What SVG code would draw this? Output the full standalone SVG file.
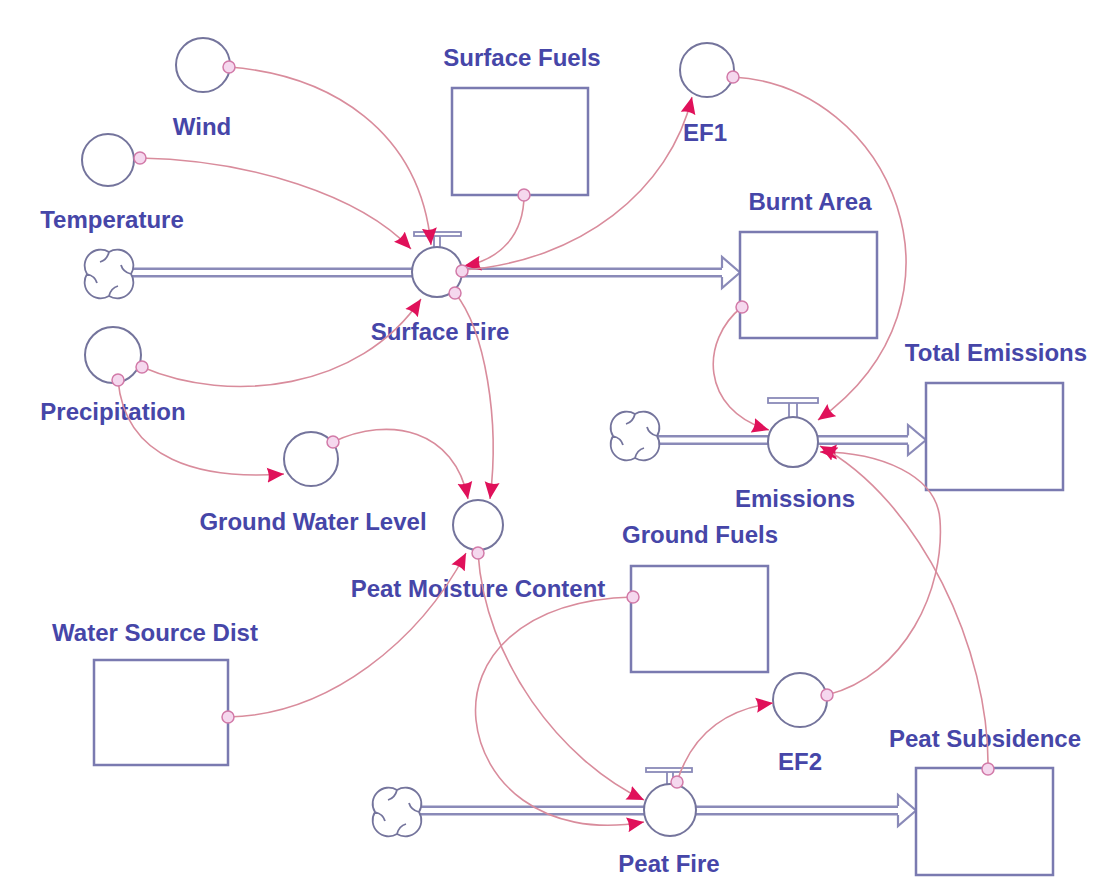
<svg xmlns="http://www.w3.org/2000/svg" width="1096" height="879" viewBox="0 0 1096 879">
<style>
.lbl{font-family:"Liberation Sans",Arial,sans-serif;font-size:24px;font-weight:bold;fill:#4646a8;text-anchor:middle}
.aux{fill:#fff;stroke:#74749c;stroke-width:2}
.stock{fill:#fff;stroke:#7a7ab0;stroke-width:2.5}
.pipeo{fill:none;stroke:#8a8ab8;stroke-width:10}
.pipei{fill:none;stroke:#fff;stroke-width:5}
.head{fill:#fff;stroke:#8a8ab8;stroke-width:2.2;stroke-linejoin:miter}
.valve{fill:#fff;stroke:#74749c;stroke-width:2}
.bar{fill:#fff;stroke:#8a8ab8;stroke-width:1.8}
.cloud{fill:#fff;stroke:#74749c;stroke-width:1.8}
.link{fill:none;stroke:#d98c9c;stroke-width:1.6;marker-end:url(#ah)}
.dot{fill:#f5d8ee;stroke:#d27aa8;stroke-width:1.5}
</style>
<defs>
<marker id="ah" markerUnits="userSpaceOnUse" markerWidth="18" markerHeight="16" refX="17" refY="8" orient="auto">
<path d="M0,0.5 L17,8 L0,15.5 Q3.5,8 0,0.5 Z" fill="#e0115a"/>
</marker>
<g id="cloudsym">
<path class="cloud" d="M0,-22 A16 16 0 0 1 22,0 A16 16 0 0 1 0,22 A16 16 0 0 1 -22,0 A16 16 0 0 1 0,-22 Z M0,-22 q-2,8 -9,10 M22,0 q-8,-2 -10,-9 M0,22 q2,-8 9,-10 M-22,0 q8,2 10,9"/>
</g>
</defs>
<rect width="1096" height="879" fill="#fff"/>

<g id="connectors">
<g id="flows">
<path class="pipeo" d="M131,272.5 H722"/><path class="pipei" d="M129,272.5 H724"/>
<path class="head" d="M722,268 V257 L740,272.5 L722,288 V277"/>
<path class="pipeo" d="M657,440 H908"/><path class="pipei" d="M655,440 H910"/>
<path class="head" d="M908,435.5 V425 L926,440 L908,455 V444.5"/>
<path class="pipeo" d="M419,810.5 H898"/><path class="pipei" d="M417,810.5 H900"/>
<path class="head" d="M898,806 V795 L916,810.5 L898,826 V815"/>
</g>
</g>

<g id="wind"><circle class="aux" cx="203" cy="65" r="27"/><text class="lbl" x="202" y="135">Wind</text></g>
<g id="temperature"><circle class="aux" cx="108" cy="160" r="26"/><text class="lbl" x="112" y="228">Temperature</text></g>
<g id="precipitation"><circle class="aux" cx="113" cy="355" r="28"/><text class="lbl" x="113" y="420">Precipitation</text></g>
<g id="ground-water-level"><circle class="aux" cx="311" cy="459" r="27"/><text class="lbl" x="313" y="530">Ground Water Level</text></g>
<g id="peat-moisture-content"><circle class="aux" cx="478" cy="525" r="25"/><text class="lbl" x="478" y="597">Peat Moisture Content</text></g>
<g id="ef1"><circle class="aux" cx="707" cy="70" r="27"/><text class="lbl" x="705" y="141">EF1</text></g>
<g id="ef2"><circle class="aux" cx="800" cy="700" r="27"/><text class="lbl" x="800" y="770">EF2</text></g>

<g id="surface-fuels"><rect class="stock" x="452" y="88" width="136" height="107"/><text class="lbl" x="522" y="66">Surface Fuels</text></g>
<g id="burnt-area"><rect class="stock" x="740" y="232" width="137" height="106"/><text class="lbl" x="810" y="210">Burnt Area</text></g>
<g id="total-emissions"><rect class="stock" x="926" y="383" width="137" height="107"/><text class="lbl" x="996" y="361">Total Emissions</text></g>
<g id="ground-fuels"><rect class="stock" x="631" y="566" width="137" height="106"/><text class="lbl" x="700" y="543">Ground Fuels</text></g>
<g id="water-source-dist"><rect class="stock" x="94" y="660" width="134" height="105"/><text class="lbl" x="155" y="641">Water Source Dist</text></g>
<g id="peat-subsidence"><rect class="stock" x="916" y="768" width="137" height="107"/><text class="lbl" x="985" y="747">Peat Subsidence</text></g>

<g id="cloud-surface"><use href="#cloudsym" x="109" y="274"/></g>
<g id="cloud-emissions"><use href="#cloudsym" x="635" y="436"/></g>
<g id="cloud-peat"><use href="#cloudsym" x="397" y="812"/></g>

<g id="surface-fire">
<rect class="bar" x="414" y="232" width="47" height="4"/>
<path class="bar" d="M434,236 V248 M440,236 V248"/>
<circle class="valve" cx="437" cy="272" r="25"/>
<text class="lbl" x="440" y="340">Surface Fire</text>
</g>
<g id="emissions">
<rect class="bar" x="768" y="398" width="50" height="5"/>
<path class="bar" d="M789,403 V417 M797,403 V417"/>
<circle class="valve" cx="793" cy="442" r="25"/>
<text class="lbl" x="795" y="507">Emissions</text>
</g>
<g id="peat-fire">
<rect class="bar" x="646" y="768" width="46" height="4"/>
<path class="bar" d="M667,772 V784 M673,772 V784"/>
<circle class="valve" cx="670" cy="810" r="26"/>
<text class="lbl" x="669" y="872">Peat Fire</text>
</g>

<g id="links">
<path class="link" d="M229,67 C330,75 420,130 431,245"/>
<path class="link" d="M140,158 C250,160 360,195 411,249"/>
<path class="link" d="M524,195 C524,235 500,260 464,266"/>
<path class="link" d="M462,270 C580,262 670,190 692,97"/>
<path class="link" d="M142,367 C230,405 360,390 421,299"/>
<path class="link" d="M455,293 C485,330 500,420 490,499"/>
<path class="link" d="M333,442 C390,415 455,430 468,499"/>
<path class="link" d="M118,380 C125,460 200,480 284,474"/>
<path class="link" d="M228,717 C330,715 420,640 466,553"/>
<path class="link" d="M478,553 C485,660 560,760 644,800"/>
<path class="link" d="M633,597 C520,600 470,660 476,720 S540,840 644,822"/>
<path class="link" d="M677,782 C690,740 720,710 773,703"/>
<path class="link" d="M827,695 C905,675 945,590 940,520 C937,475 880,452 820,452"/>
<path class="link" d="M988,769 C990,650 920,500 820,446"/>
<path class="link" d="M742,307 C700,340 700,410 769,430"/>
<path class="link" d="M733,77 C890,85 985,300 818,420"/>
<circle class="dot" cx="229" cy="67" r="6"/>
<circle class="dot" cx="140" cy="158" r="6"/>
<circle class="dot" cx="524" cy="195" r="6"/>
<circle class="dot" cx="462" cy="271" r="6"/>
<circle class="dot" cx="455" cy="293" r="6"/>
<circle class="dot" cx="142" cy="367" r="6"/>
<circle class="dot" cx="118" cy="380" r="6"/>
<circle class="dot" cx="333" cy="442" r="6"/>
<circle class="dot" cx="478" cy="553" r="6"/>
<circle class="dot" cx="633" cy="597" r="6"/>
<circle class="dot" cx="228" cy="717" r="6"/>
<circle class="dot" cx="733" cy="77" r="6"/>
<circle class="dot" cx="742" cy="307" r="6"/>
<circle class="dot" cx="827" cy="695" r="6"/>
<circle class="dot" cx="677" cy="782" r="6"/>
<circle class="dot" cx="988" cy="769" r="6"/>
</g>
</svg>
